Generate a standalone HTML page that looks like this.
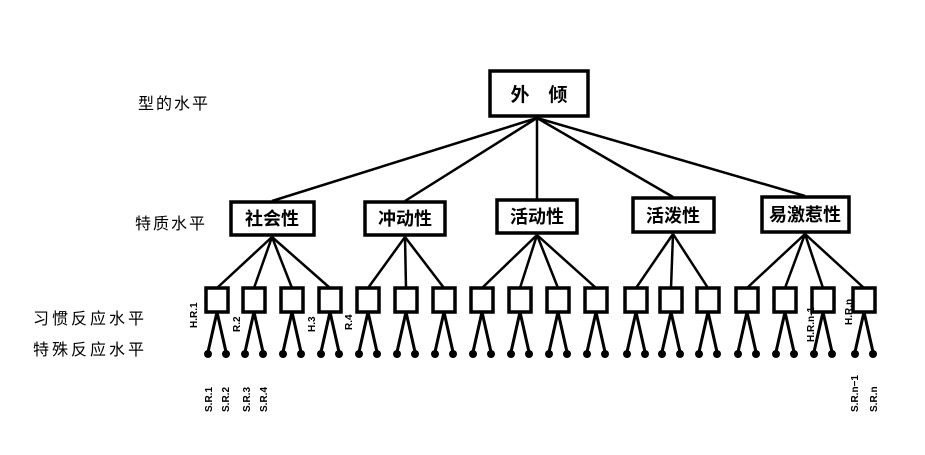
<!DOCTYPE html>
<html><head><meta charset="utf-8"><style>
html,body{margin:0;padding:0;background:#fff;}
svg{display:block;}
text{font-family:"Liberation Sans","Noto Sans CJK SC",sans-serif;fill:#000;}
</style></head><body>
<svg width="925" height="455" viewBox="0 0 925 455" xmlns="http://www.w3.org/2000/svg">
<defs>
<g id="leaf">
<line x1="0" y1="312" x2="-9" y2="352" stroke="#000" stroke-width="3"/>
<line x1="0" y1="312" x2="9" y2="352" stroke="#000" stroke-width="3"/>
<circle cx="-9" cy="354" r="4" fill="#000"/>
<circle cx="9" cy="354" r="4" fill="#000"/>
<rect x="-11" y="288" width="22" height="24" fill="#fff" stroke="#000" stroke-width="3.5"/>
</g>
</defs>
<g font-size="16">
<text x="138" y="109" letter-spacing="2">型的水平</text>
<text x="135" y="229" letter-spacing="2">特质水平</text>
<text x="33" y="324" letter-spacing="3">习惯反应水平</text>
<text x="33" y="355" letter-spacing="3">特殊反应水平</text>
</g>
<rect x="490" y="71" width="98" height="45" fill="#fff" stroke="#000" stroke-width="3.5"/>
<text x="539" y="101" font-size="19" font-weight="bold" text-anchor="middle">外　倾</text>
<g stroke="#000" stroke-width="2.5">
<line x1="537" y1="118" x2="272" y2="201"/>
<line x1="537" y1="118" x2="405" y2="201"/>
<line x1="537" y1="118" x2="537" y2="199"/>
<line x1="537" y1="118" x2="673" y2="197"/>
<line x1="537" y1="118" x2="805" y2="196"/>
</g>
<g fill="#fff" stroke="#000" stroke-width="3.5">
<rect x="231" y="202" width="83" height="33"/>
<rect x="365" y="202" width="80" height="33"/>
<rect x="497" y="200" width="80" height="33"/>
<rect x="633" y="198" width="81" height="34"/>
<rect x="762" y="197" width="87" height="35"/>
</g>
<g font-size="18" font-weight="bold" text-anchor="middle">
<text x="272" y="225">社会性</text>
<text x="405" y="225">冲动性</text>
<text x="537" y="223">活动性</text>
<text x="673" y="222">活泼性</text>
<text x="805" y="221">易激惹性</text>
</g>
<g stroke="#000" stroke-width="2.5">
<line x1="272" y1="237" x2="217" y2="288"/><line x1="272" y1="237" x2="254" y2="288"/><line x1="272" y1="237" x2="292" y2="288"/><line x1="272" y1="237" x2="330" y2="288"/>
<line x1="405" y1="237" x2="368" y2="288"/><line x1="405" y1="237" x2="406" y2="288"/><line x1="405" y1="237" x2="444" y2="288"/>
<line x1="537" y1="235" x2="482" y2="288"/><line x1="537" y1="235" x2="520" y2="288"/><line x1="537" y1="235" x2="558" y2="288"/><line x1="537" y1="235" x2="596" y2="288"/>
<line x1="673" y1="234" x2="636" y2="288"/><line x1="673" y1="234" x2="671" y2="288"/><line x1="673" y1="234" x2="708" y2="288"/>
<line x1="805" y1="234" x2="747" y2="288"/><line x1="805" y1="234" x2="785" y2="288"/><line x1="805" y1="234" x2="823" y2="288"/><line x1="805" y1="234" x2="864" y2="288"/>
</g>
<use href="#leaf" x="217"/><use href="#leaf" x="254"/><use href="#leaf" x="292"/><use href="#leaf" x="330"/>
<use href="#leaf" x="368"/><use href="#leaf" x="406"/><use href="#leaf" x="444"/>
<use href="#leaf" x="482"/><use href="#leaf" x="520"/><use href="#leaf" x="558"/><use href="#leaf" x="596"/>
<use href="#leaf" x="636"/><use href="#leaf" x="671"/><use href="#leaf" x="708"/>
<use href="#leaf" x="747"/><use href="#leaf" x="785"/><use href="#leaf" x="823"/><use href="#leaf" x="864"/>
<g font-size="10" font-weight="bold">
<text transform="translate(197,328) rotate(-90)">H.R.1</text>
<text transform="translate(240,332) rotate(-90)">R.2</text>
<text transform="translate(315,332) rotate(-90)">H.3</text>
<text transform="translate(352,330) rotate(-90)">R.4</text>
<text transform="translate(814,342) rotate(-90)">H.R.n-1</text>
<text transform="translate(852,325) rotate(-90)">H.R.n</text>
<text transform="translate(212,412) rotate(-90)">S.R.1</text>
<text transform="translate(229,412) rotate(-90)">S.R.2</text>
<text transform="translate(250,412) rotate(-90)">S.R.3</text>
<text transform="translate(267,412) rotate(-90)">S.R.4</text>
<text transform="translate(858,412) rotate(-90)">S.R.n−1</text>
<text transform="translate(877,412) rotate(-90)">S.R.n</text>
</g>
</svg>
</body></html>
